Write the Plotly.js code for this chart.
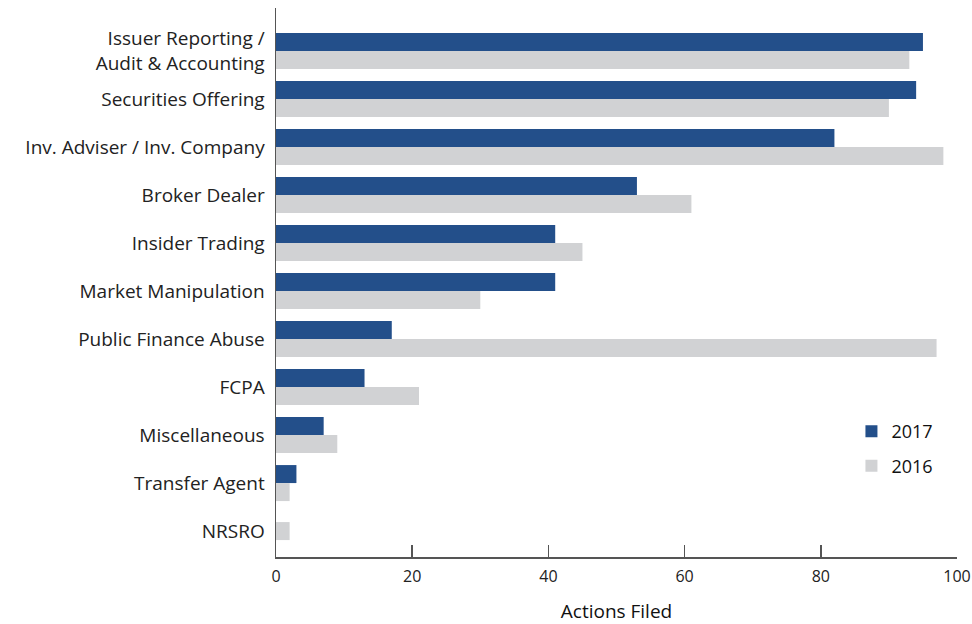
<!DOCTYPE html>
<html>
<head>
<meta charset="utf-8">
<script src="https://cdn.plot.ly/plotly-3.0.1.min.js"></script>
<style>html,body{margin:0;padding:0;background:#fff;}#chart{width:972px;height:624px;}</style>
</head>
<body>
<div id="chart"></div>
<script>
const categories = [
  "Issuer Reporting /<br>Audit & Accounting",
  "Securities Offering",
  "Inv. Adviser / Inv. Company",
  "Broker Dealer",
  "Insider Trading",
  "Market Manipulation",
  "Public Finance Abuse",
  "FCPA",
  "Miscellaneous",
  "Transfer Agent",
  "NRSRO"
];
const values2017 = [95, 94, 82, 53, 41, 41, 17, 13, 7, 3, 0];
const values2016 = [93, 90, 98, 61, 45, 30, 97, 21, 9, 2, 2];
const xTicks = [0, 20, 40, 60, 80, 100];

const font = "'Open Sans', Lato, sans-serif";
const barW = 0.375;
// a category with no 2017 bar gets its 2016 bar centred
const offsets2016 = values2017.map(v => v ? 0 : -barW / 2);
const data = [
  {type: "bar", orientation: "h", name: "2017", legendgroup: "a", y: categories, x: values2017,
   width: barW, offset: -barW, marker: {color: "#234f8a"}, hoverinfo: "x"},
  {type: "bar", orientation: "h", name: "2016", legendgroup: "b", y: categories, x: values2016,
   width: barW, offset: offsets2016, marker: {color: "#d1d2d4"}, hoverinfo: "x"}
];
const layout = {
  width: 972, height: 624,
  margin: {l: 276, r: 15, t: 8, b: 67},
  paper_bgcolor: "#fff", plot_bgcolor: "#fff",
  barmode: "overlay",
  font: {family: font, color: "#222"},
  showlegend: true,
  legend: {x: 0.845, y: 0.262, xanchor: "left", yanchor: "top",
           font: {size: 18, color: "#111"}, traceorder: "grouped", tracegroupgap: 8,
           itemwidth: 30, bgcolor: "rgba(0,0,0,0)"},
  xaxis: {
    range: [0, 100], tickvals: xTicks, ticktext: xTicks.map(String),
    showgrid: false, zeroline: false, showline: true, linecolor: "#555", linewidth: 1.5,
    ticks: "inside", ticklen: 12, tickcolor: "#555", tickwidth: 1.5,
    ticklabelstandoff: 4,
    tickfont: {size: 16, color: "#222"},
    title: {text: "Actions Filed", font: {size: 19, color: "#111"}, standoff: 22}
  },
  yaxis: {
    type: "category", range: [10.54, -0.896],
    showgrid: false, zeroline: false, showline: true, linecolor: "#555", linewidth: 1.5,
    ticks: "", ticklabelstandoff: 6,
    tickfont: {size: 19, color: "#222"}
  }
};
Plotly.newPlot("chart", data, layout, {displayModeBar: false, staticPlot: true});
</script>
</body>
</html>
